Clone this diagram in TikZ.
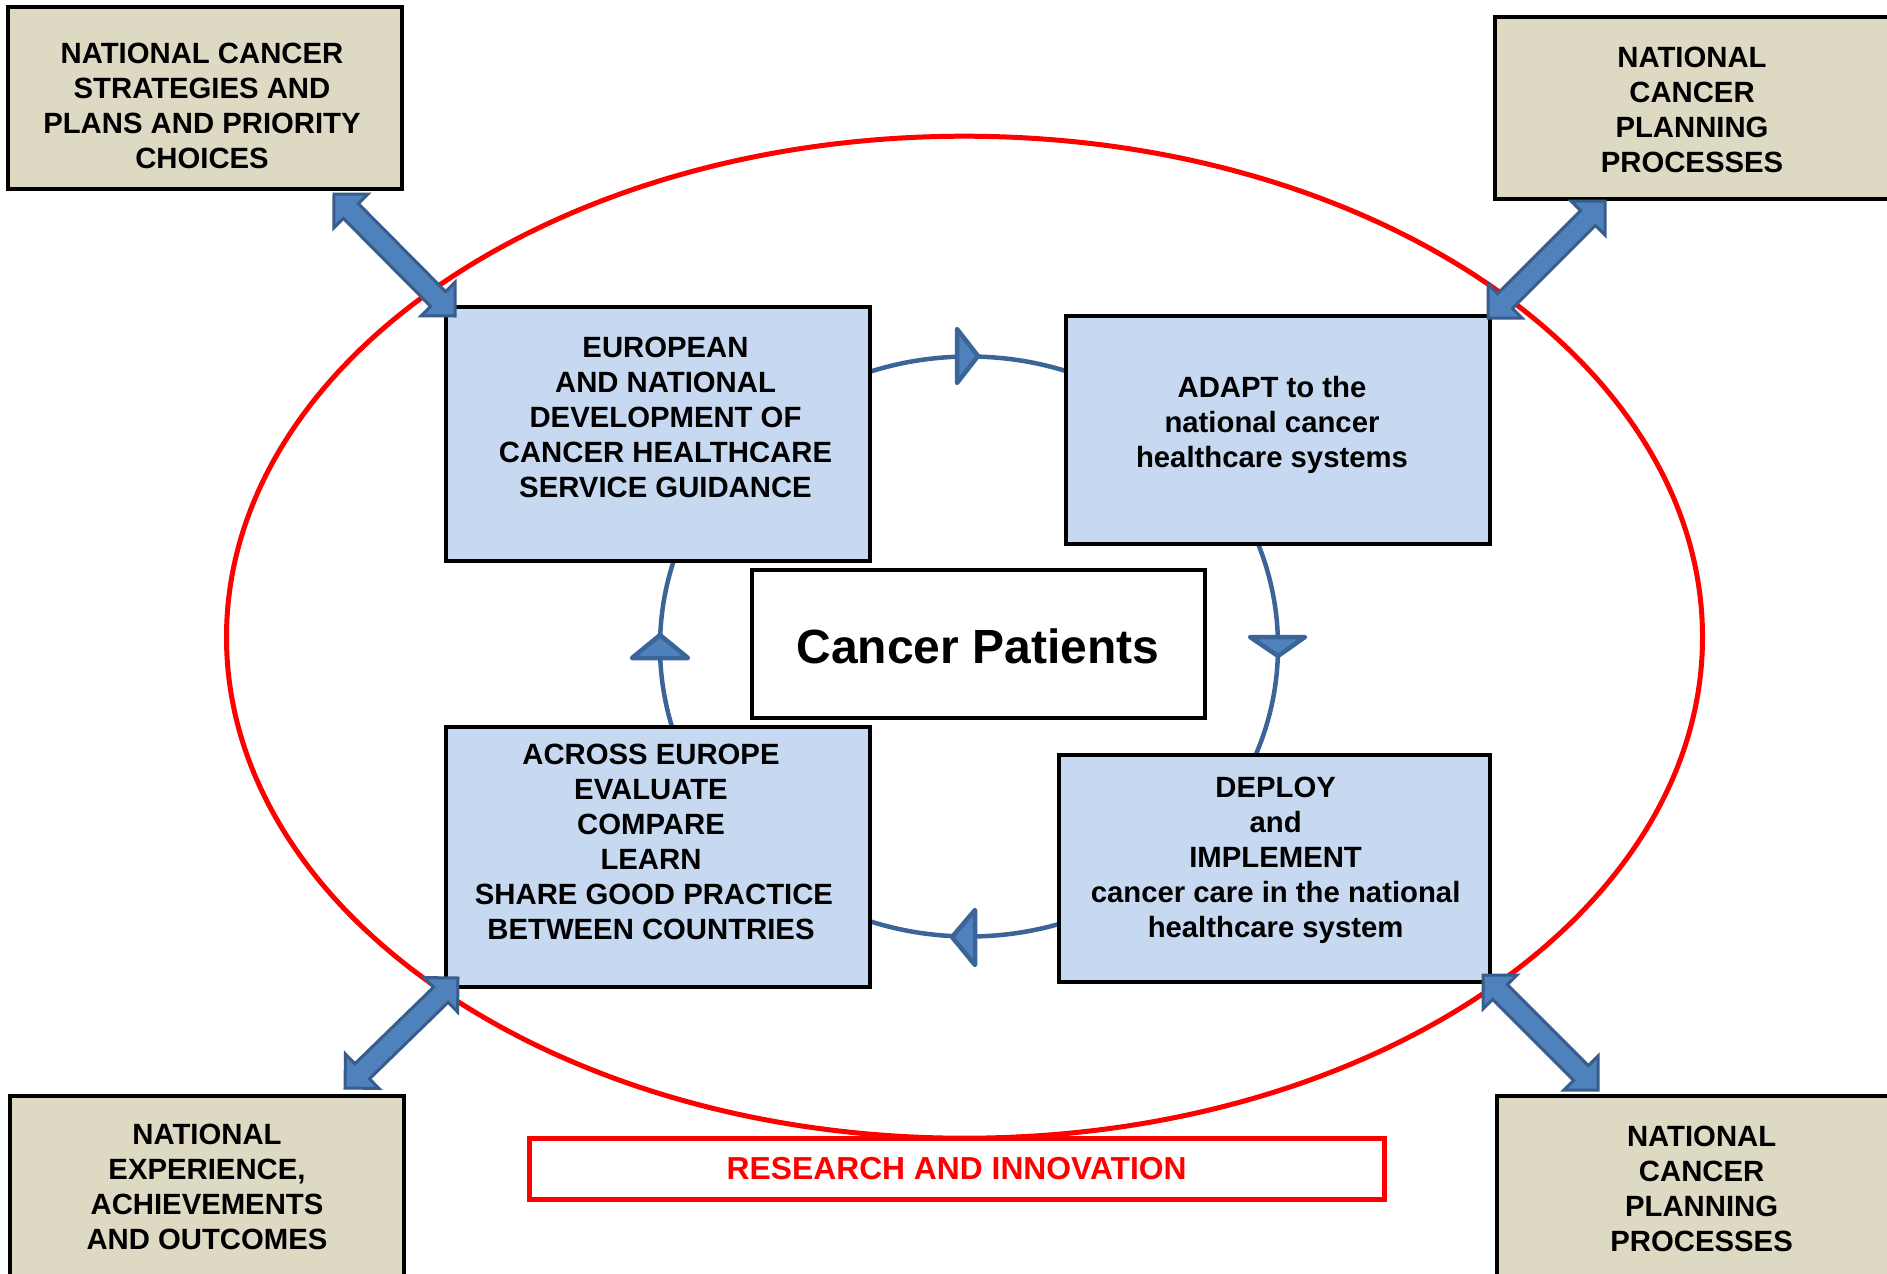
\documentclass[tikz,border=0pt]{standalone}
\usepackage{fontspec}
\setmainfont{Liberation Sans}
\usetikzlibrary{calc}
\definecolor{tanfill}{HTML}{DDD9C3}
\definecolor{bluefill}{HTML}{C6D9F1}
\definecolor{arrfill}{HTML}{4F81BD}
\definecolor{arrline}{HTML}{385D8A}
\definecolor{cycline}{HTML}{3B6598}
\definecolor{redline}{HTML}{FF0000}
\newcommand\dblarrow[2]{%
  \coordinate (pa) at ($(#1)!24pt!(#2)$);
  \coordinate (pb) at ($(#2)!24pt!(#1)$);
  \filldraw[bigarrow] (#1)
    -- ($(pa)!24pt!90:(#2)$) -- ($(pa)!10.5pt!90:(#2)$)
    -- ($(pb)!10.5pt!90:(#2)$) -- ($(pb)!24pt!90:(#2)$)
    -- (#2)
    -- ($(pb)!24pt!-90:(#2)$) -- ($(pb)!10.5pt!-90:(#2)$)
    -- ($(pa)!10.5pt!-90:(#2)$) -- ($(pa)!24pt!-90:(#2)$)
    -- cycle;
}
\begin{document}
\begin{tikzpicture}[x=1pt,y=-1pt,
  box/.style={draw=black, line width=4.5pt, inner sep=0pt},
  tanbox/.style={box, fill=tanfill},
  bluebox/.style={box, fill=bluefill},
  lbl/.style={font=\fontsize{29.3}{35}\selectfont\bfseries, align=center, inner sep=0pt},
  bigarrow/.style={fill=arrfill, draw=arrline, line width=3pt, line join=miter},
  cychead/.style={fill=arrfill, draw=cycline, line width=4.5pt, line join=round},
]
\useasboundingbox (0,0) rectangle (1887,1274);
\fill[white] (0,0) rectangle (1887,1274);

% outer red ellipse
\draw[redline, line width=5pt] (964.5,637.2) ellipse [x radius=738pt, y radius=501pt];
% cycle ellipse
\draw[cycline, line width=4.5pt] (969,646.5) ellipse [x radius=309pt, y radius=290pt];

% corner boxes
\node[tanbox, minimum width=394pt, minimum height=182pt] (tl) at (205,98) {};
\node[tanbox, minimum width=400pt, minimum height=182pt] (tr) at (1695,108) {};
\node[tanbox, minimum width=394pt, minimum height=194pt] (bl) at (207,1193) {};
\node[tanbox, minimum width=398pt, minimum height=194pt] (br) at (1696,1193) {};

% inner boxes
\node[bluebox, minimum width=424pt, minimum height=254pt] (eur) at (658,434) {};
\node[bluebox, minimum width=424pt, minimum height=228pt] (adapt) at (1278,430) {};
\node[box, fill=white, minimum width=453pt, minimum height=148pt] (cp) at (978.5,644) {};
\node[bluebox, minimum width=424pt, minimum height=260pt] (across) at (658,857) {};
\node[bluebox, minimum width=431pt, minimum height=227pt] (deploy) at (1274.5,868.5) {};
\node[draw=redline, line width=5pt, fill=white, minimum width=855pt, minimum height=61pt, inner sep=0pt] (res) at (956.5,1168.5) {};

% texts
\node[lbl] (tlT) at (202,106) {NATIONAL CANCER\\STRATEGIES AND\\PLANS AND PRIORITY\\CHOICES};
\node[lbl] (trT) at (1692,109.5) {NATIONAL\\CANCER\\PLANNING\\PROCESSES};
\node[lbl] (blT) at (207,1186.6) {NATIONAL\\EXPERIENCE,\\ACHIEVEMENTS\\AND OUTCOMES};
\node[lbl] (brT) at (1701.6,1189) {NATIONAL\\CANCER\\PLANNING\\PROCESSES};
\node[lbl] (eurT) at (665.5,417) {EUROPEAN\\AND NATIONAL\\DEVELOPMENT OF\\CANCER HEALTHCARE\\SERVICE GUIDANCE};
\node[lbl] (adaptT) at (1272,425) {ADAPT to the\\national cancer\\healthcare systems};
\node[inner sep=0pt, font=\fontsize{48}{57}\selectfont\bfseries] (cpT) at (978,646) {Cancer Patients};
\node[lbl] (acrossT) at (651,842) {ACROSS EUROPE\\EVALUATE\\COMPARE\\LEARN\\\hspace*{6pt}SHARE GOOD PRACTICE\\BETWEEN COUNTRIES};
\node[lbl] (deployT) at (1275.6,860) {DEPLOY\\and\\IMPLEMENT\\cancer care in the national\\healthcare system};
\node[inner sep=0pt, text=redline, font=\fontsize{31.8}{37}\selectfont\bfseries] (resT) at (956.7,1168.5) {RESEARCH AND INNOVATION};

% cycle arrowheads
\filldraw[cychead] (978,356) -- (957,329) -- (957,383) -- cycle;
\filldraw[cychead] (1278,656) -- (1250,637) -- (1305,637) -- cycle;
\filldraw[cychead] (952,937) -- (975,910) -- (975,965) -- cycle;
\filldraw[cychead] (660,635) -- (632,658) -- (688,658) -- cycle;

% double arrows
\coordinate (tlA) at (334,194);   \coordinate (tlB) at (455,316);
\coordinate (trA) at (1605,201);  \coordinate (trB) at (1488,318);
\coordinate (brA) at (1483,975);  \coordinate (brB) at (1598,1090);
\coordinate (blA) at (458,978);   \coordinate (blB) at (345,1088);
\dblarrow{tlA}{tlB}
\dblarrow{trA}{trB}
\dblarrow{brA}{brB}
\dblarrow{blA}{blB}
\end{tikzpicture}
\end{document}
